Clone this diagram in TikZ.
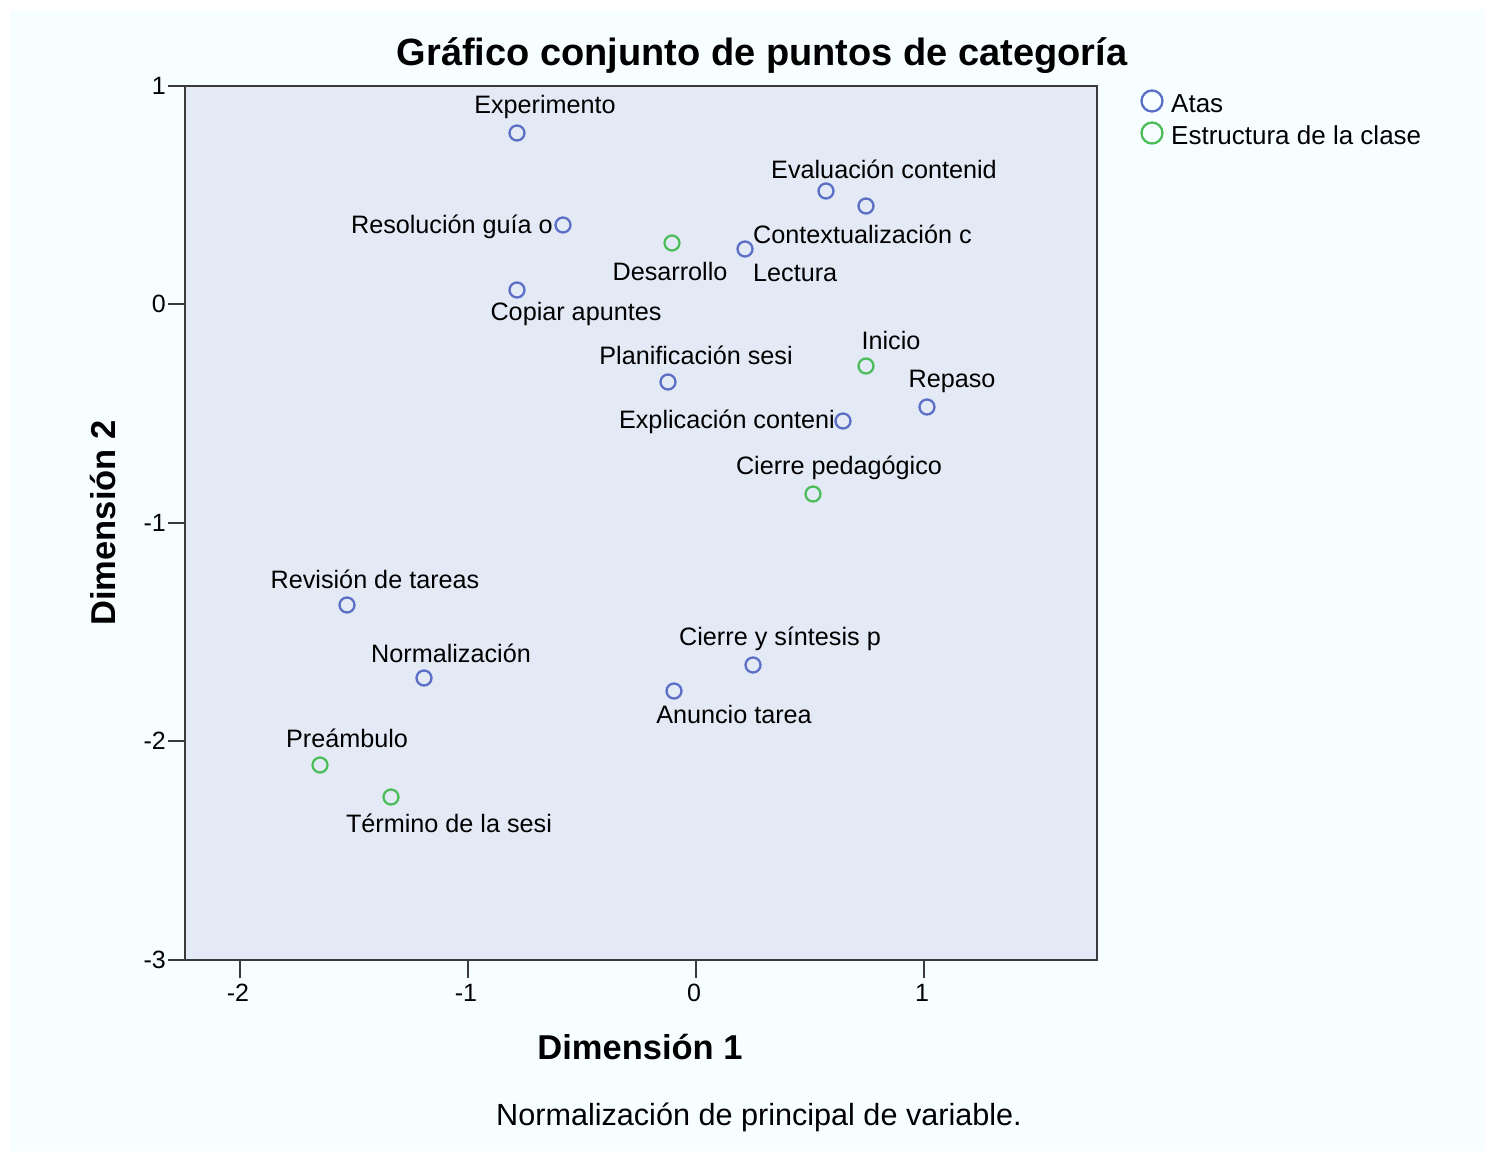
\documentclass[tikz,border=0pt]{standalone}
\usepackage{fontspec}
\setmainfont{Liberation Sans}
\definecolor{pagebg}{HTML}{F6FEFF}
\definecolor{plotbg}{HTML}{E3E9F5}
\definecolor{frame}{HTML}{3A3A3A}
\definecolor{ptblue}{HTML}{5B6FC6}
\definecolor{ptgreen}{HTML}{4DBD5C}
\begin{document}
\begin{tikzpicture}[x=1pt,y=-1pt,
  lbl/.style={font=\fontsize{25.2}{29}\selectfont, inner sep=0pt, text=black},
  tick/.style={font=\fontsize{25}{28}\selectfont, inner sep=0pt},
  pa/.style={circle, draw=ptblue, line width=2.3pt, minimum size=15pt, inner sep=0pt},
  pb/.style={circle, draw=ptgreen, line width=2.3pt, minimum size=15pt, inner sep=0pt},
  la/.style={circle, draw=ptblue, line width=2.3pt, minimum size=21pt, inner sep=0pt},
  lb/.style={circle, draw=ptgreen, line width=2.3pt, minimum size=21pt, inner sep=0pt}]
\useasboundingbox (0,0) rectangle (1485,1151);
\fill[white] (0,0) rectangle (1485,1151);
\fill[pagebg] (10,10) rectangle (1485,1151);
% plot area
\fill[plotbg] (185,86) rectangle (1097,960);
\draw[frame, line width=2.5pt] (185,86) rectangle (1097,960);
% y ticks
\foreach \yy/\t in {86/1,304/0,523/-1,741/-2,960/-3}{
  \draw[frame, line width=2.5pt] (168,\yy) -- (185,\yy);
  \node[tick, anchor=east] at (166,\yy) {\t};
}
% x ticks
\foreach \xx/\t in {240/-2,468/-1,696/0,924/1}{
  \draw[frame, line width=2.5pt] (\xx,960) -- (\xx,978);
  \node[tick] at (\xx-2,993) {\t};
}
% titles
\node[font=\bfseries\fontsize{38}{43}\selectfont, inner sep=0pt] (title) at (762,56) {Gráfico conjunto de puntos de categoría};
\node[font=\bfseries\fontsize{34.5}{39}\selectfont, inner sep=0pt] (xt) at (640,1047) {Dimensión 1};
\node[font=\bfseries\fontsize{34.5}{39}\selectfont, inner sep=0pt, rotate=90] (yt) at (103,523) {Dimensión 2};
\node[font=\fontsize{30.6}{35}\selectfont, inner sep=0pt] (foot) at (759,1117) {Normalización de principal de variable.};
% legend
\node[la] (lga) at (1152,101) {};
\node[lb] (lgb) at (1152,133) {};
\node[lbl, anchor=west, font=\fontsize{26}{29}\selectfont] (lgta) at (1171,104) {Atas};
\node[lbl, anchor=west, font=\fontsize{26}{29}\selectfont] (lgtb) at (1171,135) {Estructura de la clase};
% points
\node[pa] (p1) at (517,133) {};
\node[pa] (p2) at (563,225) {};
\node[pb] (p3) at (672,243) {};
\node[pa] (p4) at (745,249) {};
\node[pa] (p5) at (826,191) {};
\node[pa] (p6) at (866,206) {};
\node[pa] (p7) at (517,290) {};
\node[pa] (p8) at (668,382) {};
\node[pb] (p9) at (866,366) {};
\node[pa] (p10) at (927,407) {};
\node[pa] (p11) at (843,421) {};
\node[pb] (p12) at (813,494) {};
\node[pa] (p13) at (347,605) {};
\node[pa] (p14) at (424,678) {};
\node[pa] (p15) at (753,665) {};
\node[pa] (p16) at (674,691) {};
\node[pb] (p17) at (320,765) {};
\node[pb] (p18) at (391,797) {};
% labels
\node[lbl] (t1) at (545,107) {Experimento};
\node[lbl, anchor=east] (t2) at (553,227) {Resolución guía o};
\node[lbl] (t3) at (670,271) {Desarrollo};
\node[lbl, anchor=west] (t4) at (753,273) {Lectura};
\node[lbl] (t5) at (884,169) {Evaluación contenid};
\node[lbl, anchor=west] (t6) at (753,234) {Contextualización c};
\node[lbl] (t7) at (576,314) {Copiar apuntes};
\node[lbl] (t8) at (696,355) {Planificación sesi};
\node[lbl] (t9) at (891,340) {Inicio};
\node[lbl] (t10) at (952,381) {Repaso};
\node[lbl, anchor=east] (t11) at (835,422) {Explicación conteni};
\node[lbl] (t12) at (839,468) {Cierre pedagógico};
\node[lbl] (t13) at (375,579) {Revisión de tareas};
\node[lbl] (t14) at (451,653) {Normalización};
\node[lbl] (t15) at (780,639) {Cierre y síntesis p};
\node[lbl] (t16) at (734,714) {Anuncio tarea};
\node[lbl] (t17) at (347,738) {Preámbulo};
\node[lbl] (t18) at (449,823) {Término de la sesi};
\end{tikzpicture}
\end{document}
